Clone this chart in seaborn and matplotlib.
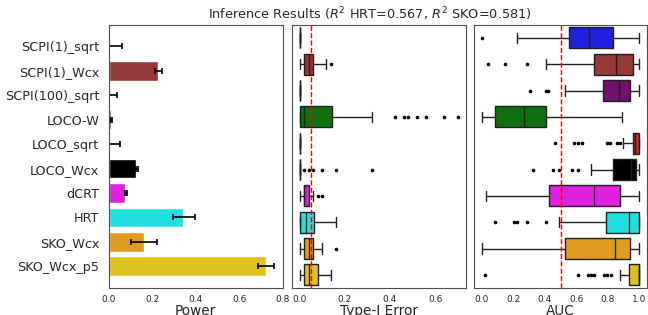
import numpy as np
import pandas as pd
import matplotlib
matplotlib.use("Agg")
import matplotlib.pyplot as plt
import seaborn as sns

methods = ["SCPI(1)_sqrt", "SCPI(1)_Wcx", "SCPI(100)_sqrt", "LOCO-W", "LOCO_sqrt",
           "LOCO_Wcx", "dCRT", "HRT", "SKO_Wcx", "SKO_Wcx_p5"]
colors = ["blue", "brown", "purple", "green", "red", "black", "magenta", "cyan", "orange", "gold"]

# Power: mean and error-bar interval
power_mean = [0.0, 0.227, 0.0, 0.012, 0.0, 0.128, 0.078, 0.342, 0.161, 0.723]
power_lo = [0.0, 0.212, 0.0, 0.008, 0.0, 0.125, 0.076, 0.296, 0.104, 0.688]
power_hi = [0.060, 0.246, 0.041, 0.018, 0.054, 0.135, 0.083, 0.395, 0.221, 0.760]

# Type-I error samples per method
t1_scpi1_sqrt = [0, 0, 0, 0, 0]
t1_scpi1_wcx = [0, 0.01, 0.02, 0.03, 0.04, 0.05, 0.06, 0.118, 0.14]
t1_scpi100_sqrt = [0, 0, 0, 0, 0]
t1_loco_w = [0] * 9 + [0, 0, 0.005, 0.01, 0.01, 0.015, 0.02] + [0.02] + \
            [0.03, 0.04, 0.06, 0.08, 0.10, 0.12, 0.14] + [0.145] + \
            [0.32, 0.42, 0.46, 0.48, 0.52, 0.56, 0.64, 0.70]
t1_loco_sqrt = [0, 0, 0, 0, 0]
t1_loco_wcx = [0] * 19 + [0.02, 0.04, 0.06, 0.10, 0.16, 0.32]
t1_dcrt = [0, 0.01, 0.02, 0.02, 0.02, 0.02, 0.02, 0.03, 0.04, 0.04, 0.06, 0.08, 0.10]
t1_hrt = [0, 0, 0, 0.02, 0.03, 0.05, 0.065, 0.10, 0.16]
t1_sko_wcx = [0, 0.01, 0.02, 0.03, 0.04, 0.05, 0.06, 0.10, 0.16]
t1_sko_wcx_p5 = [0, 0.01, 0.02, 0.03, 0.04, 0.06, 0.08, 0.10, 0.14]

# AUC samples per method
auc_scpi1_sqrt = [0.0, 0.226, 0.551, 0.60, 0.683, 0.75, 0.834, 0.90, 1.0]
auc_scpi1_wcx = [0.042, 0.145, 0.285, 0.407, 0.713, 0.75, 0.80, 0.83, 0.853,
                 0.88, 0.92, 0.94, 0.958, 0.97, 0.98, 1.0, 1.0]
auc_scpi100_sqrt = [0.306, 0.407, 0.423, 0.528, 0.771, 0.80, 0.83, 0.85, 0.870,
                    0.89, 0.91, 0.93, 0.941, 0.96, 0.98, 1.0, 1.0]
auc_loco_w = [0.0, 0.04, 0.084, 0.18, 0.266, 0.33, 0.409, 0.60, 0.89]
auc_loco_sqrt = [0.465, 0.589, 0.612, 0.635, 0.797, 0.813, 0.857, 0.876, 0.90,
                 0.958, 0.96, 0.962, 0.964, 0.966, 0.968, 0.97, 0.972, 0.974,
                 0.975, 0.978, 0.98, 0.983, 0.986, 0.99, 0.993, 0.996,
                 1.0, 1.0, 1.0, 1.0, 1.0, 1.0, 1.0, 1.0, 1.0, 1.0, 1.0]
auc_loco_wcx = [0.327, 0.451, 0.493, 0.570, 0.612, 0.692, 0.834, 0.86, 0.88, 0.90,
                0.92, 0.94, 0.95, 0.955, 0.96, 0.965, 0.97, 0.975, 0.979,
                0.99, 1.0, 1.0, 1.0, 1.0, 1.0]
auc_dcrt = [0.025, 0.20, 0.430, 0.60, 0.713, 0.80, 0.881, 0.95, 1.0]
auc_hrt = [0.084, 0.205, 0.224, 0.285, 0.407, 0.493, 0.790, 0.82, 0.85, 0.88,
           0.90, 0.92, 0.937, 0.95, 0.96, 0.97, 0.98, 0.99, 1.0,
           1.0, 1.0, 1.0, 1.0, 1.0, 1.0]
auc_sko_wcx = [0.0, 0.30, 0.528, 0.70, 0.849, 0.90, 0.941, 0.97, 1.0]
auc_sko_wcx_p5 = [0.021, 0.612, 0.675, 0.692, 0.713, 0.776, 0.797, 0.818, 0.876,
                  0.937, 0.94, 0.945, 0.95, 0.955, 0.96, 0.965, 0.97, 0.98,
                  1.0, 1.0, 1.0, 1.0, 1.0, 1.0, 1.0, 1.0, 1.0,
                  1.0, 1.0, 1.0, 1.0, 1.0, 1.0, 1.0, 1.0, 1.0, 1.0]

type1_samples = [t1_scpi1_sqrt, t1_scpi1_wcx, t1_scpi100_sqrt, t1_loco_w, t1_loco_sqrt,
                 t1_loco_wcx, t1_dcrt, t1_hrt, t1_sko_wcx, t1_sko_wcx_p5]
auc_samples = [auc_scpi1_sqrt, auc_scpi1_wcx, auc_scpi100_sqrt, auc_loco_w, auc_loco_sqrt,
               auc_loco_wcx, auc_dcrt, auc_hrt, auc_sko_wcx, auc_sko_wcx_p5]

alpha_level = 0.05
auc_ref = 0.5
title = r"Inference Results ($R^2$ HRT=0.567, $R^2$ SKO=0.581)"

sns.set_style("white")
plt.rcParams["font.family"] = ["DejaVu Sans"]

power_df = pd.DataFrame({"method": methods, "power": power_mean})
t1_df = pd.DataFrame([(m, v) for m, s in zip(methods, type1_samples) for v in s],
                     columns=["method", "value"])
auc_df = pd.DataFrame([(m, v) for m, s in zip(methods, auc_samples) for v in s],
                      columns=["method", "value"])

W, H = 648, 315
fig = plt.figure(figsize=(W / 100, H / 100), dpi=100)
bot = (H - 288) / H
ht = (288 - 24.7) / H
ax1 = fig.add_axes([108.5 / W, bot, 174.2 / W, ht])
ax2 = fig.add_axes([291.7 / W, bot, 174.0 / W, ht])
ax3 = fig.add_axes([474.0 / W, bot, 173.0 / W, ht])

pal = dict(zip(methods, colors))

sns.barplot(data=power_df, x="power", y="method", hue="method", palette=pal,
            order=methods, errorbar=None, legend=False, ax=ax1)
pos = np.arange(len(methods))
ax1.errorbar(power_mean, pos,
             xerr=[np.array(power_mean) - np.array(power_lo),
                   np.array(power_hi) - np.array(power_mean)],
             fmt="none", ecolor="black", elinewidth=1.2, capsize=2.5, capthick=1.2)
ax1.set_xlim(0, 0.8)
ax1.set_xticks([0.0, 0.2, 0.4, 0.6, 0.8])

flier = dict(marker=".", markersize=3.2, markerfacecolor="black", markeredgecolor="black")
sns.boxplot(data=t1_df, x="value", y="method", hue="method", palette=pal, order=methods,
            legend=False, ax=ax2, flierprops=flier, linewidth=1.0, linecolor="0.12")
ax2.axvline(alpha_level, color="red", linestyle="--", linewidth=1.0)
ax2.set_xticks([0.0, 0.2, 0.4, 0.6])

sns.boxplot(data=auc_df, x="value", y="method", hue="method", palette=pal, order=methods,
            legend=False, ax=ax3, flierprops=flier, linewidth=1.0, linecolor="0.12")
ax3.axvline(auc_ref, color="red", linestyle="--", linewidth=1.0)
ax3.set_xticks([0.0, 0.2, 0.4, 0.6, 0.8, 1.0])

for ax, lab in [(ax1, "Power"), (ax2, "Type-I Error"), (ax3, "AUC")]:
    ax.set_xlabel(lab, fontsize=9.8, labelpad=0)
    ax.set_ylabel("")
    ax.tick_params(axis="x", labelsize=6.5, pad=1.5)
    for s in ax.spines.values():
        s.set_color("0.3")
ax1.tick_params(axis="y", labelsize=9.2, pad=3)
ax2.set_yticks([])
ax3.set_yticks([])
ax2.set_title(title, fontsize=9.3, pad=4, x=0.45)

fig.savefig("out.png", dpi=100)
